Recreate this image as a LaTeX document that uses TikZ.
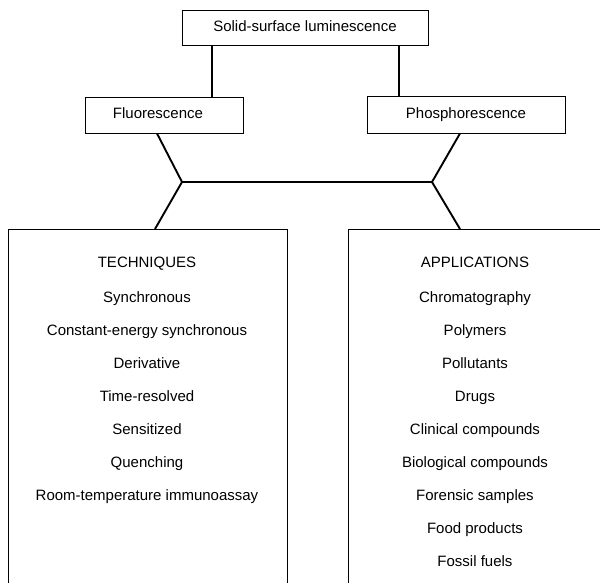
\documentclass[tikz,border=0pt]{standalone}
\usepackage{fontspec}
\setmainfont{Liberation Sans}
\begin{document}
\begin{tikzpicture}[x=1pt,y=-1pt,
  box/.style={draw,line width=0.9pt,inner sep=0pt,text height=11pt,text depth=3pt},
  bigbox/.style={draw,line width=0.9pt,inner sep=0pt,anchor=north west},
  conn/.style={line width=1.9pt},
  item/.style={anchor=base,inner sep=0pt}]
\useasboundingbox (0,0) rectangle (600,583);
\clip (0,0) rectangle (600,583);
\fontsize{15pt}{18pt}\selectfont
% top level boxes
\node[box,minimum width=246pt,minimum height=35pt] (top) at (305,27.5) {Solid-surface luminescence};
\node[box,minimum width=158pt,minimum height=36pt,text width=140pt,align=center] (fluo) at (164,115) {\hspace*{-12pt}Fluorescence};
\node[box,minimum width=198pt,minimum height=37pt] (phos) at (466,114.5) {Phosphorescence};
% big boxes
\node[bigbox,minimum width=279pt,minimum height=400pt] (tech) at (8,229) {};
\node[bigbox,minimum width=262pt,minimum height=400pt] (appl) at (348,229) {};
% junction coordinates
\coordinate (jl) at (182,182);
\coordinate (jr) at (432,182);
% connectors
\draw[conn] (top.south -| 212,0) -- (fluo.north -| 212,0);
\draw[conn] (top.south -| 399,0) -- (phos.north -| 399,0);
\draw[conn] (fluo.south -| 157,0) -- (jl) -- (jr) -- (phos.south -| 460,0);
\draw[conn] (jl) -- (tech.north -| 155,0);
\draw[conn] (jr) -- (appl.north -| 460,0);
% techniques
\node[item] (t0) at (147,267) {TECHNIQUES};
\node[item] (t1) at (147,302) {Synchronous};
\node[item] (t2) at (147,335) {Constant-energy synchronous};
\node[item] (t3) at (147,368) {Derivative};
\node[item] (t4) at (147,401) {Time-resolved};
\node[item] (t5) at (147,434) {Sensitized};
\node[item] (t6) at (147,467) {Quenching};
\node[item] (t7) at (147,500) {Room-temperature immunoassay};
% applications
\node[item] (a0) at (475,267) {APPLICATIONS};
\node[item] (a1) at (475,302) {Chromatography};
\node[item] (a2) at (475,335) {Polymers};
\node[item] (a3) at (475,368) {Pollutants};
\node[item] (a4) at (475,401) {Drugs};
\node[item] (a5) at (475,434) {Clinical compounds};
\node[item] (a6) at (475,467) {Biological compounds};
\node[item] (a7) at (475,500) {Forensic samples};
\node[item] (a8) at (475,533) {Food products};
\node[item] (a9) at (475,566) {Fossil fuels};
\end{tikzpicture}
\end{document}
